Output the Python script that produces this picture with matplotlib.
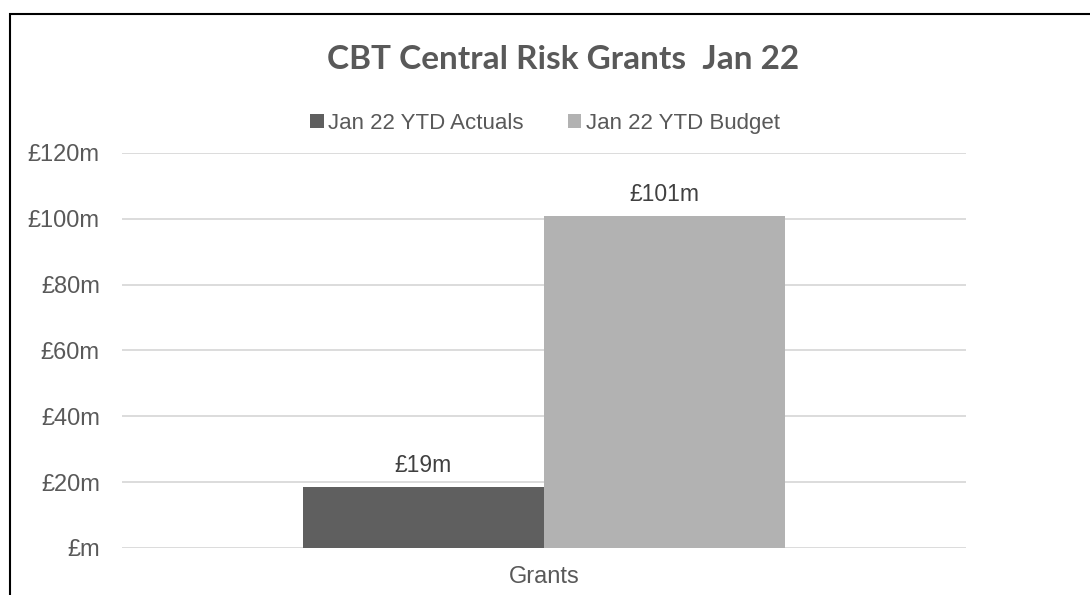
import matplotlib.pyplot as plt
from matplotlib.patches import Rectangle

plt.rcParams['font.family'] = ['Liberation Sans', 'DejaVu Sans']

# data
categories = ['Grants']
series_names = ['Jan 22 YTD Actuals', 'Jan 22 YTD Budget']
series_values = [[18.6], [100.9]]
value_labels = [['£19m'], ['£101m']]
series_colors = ['#5f5f5f', '#b2b2b2']
y_ticks = [0, 20, 40, 60, 80, 100, 120]
y_tick_labels = ['£m', '£20m', '£40m', '£60m', '£80m', '£100m', '£120m']

text_col = '#595959'

fig = plt.figure(figsize=(10.9, 5.95), dpi=100)
ax = fig.add_axes([0.112, 0.079, 0.774, 0.664])

# Excel-style gap width 150%: bar width = 1 / (2 + 1.5)
bw = 1 / 3.5
n = len(series_names)
for i, (name, vals, labs, col) in enumerate(zip(series_names, series_values, value_labels, series_colors)):
    xs = [j + (i - (n - 1) / 2) * bw for j in range(len(categories))]
    bars = ax.bar(xs, vals, width=bw, color=col, label=name, zorder=2)
    for b, lab in zip(bars, labs):
        ax.annotate(lab, (b.get_x() + b.get_width() / 2, b.get_height()),
                    xytext=(0, 7), textcoords='offset points',
                    ha='center', va='bottom', fontsize=16.5, color='#404040')

ax.set_xlim(-0.5, len(categories) - 0.5)
ax.set_ylim(0, 120)
ax.set_yticks(y_ticks)
ax.set_yticklabels(y_tick_labels)
ax.set_xticks(range(len(categories)))
ax.set_xticklabels(categories)
ax.tick_params(axis='both', length=0, labelsize=17, labelcolor=text_col)
ax.tick_params(axis='y', pad=16)
ax.tick_params(axis='x', pad=13)
ax.yaxis.grid(True, color='#d9d9d9', linewidth=1.3, zorder=0)
ax.set_axisbelow(True)
for s in ax.spines.values():
    s.set_visible(False)

# title font in the reference is Calibri bold; Lato is the closest installed
fig.text(0.5165, 0.9, 'CBT Central Risk Grants  Jan 22', ha='center', va='center',
         fontsize=24, fontweight='bold', color=text_col, family=['Lato', 'DejaVu Sans'])

fig.legend(loc='center', bbox_to_anchor=(0.5, 0.793), ncol=2, frameon=False,
           fontsize=16, labelcolor=text_col, handlelength=0.6, handleheight=0.6,
           handletextpad=0.2, columnspacing=2.0)

# chart-area border (clipped at right and bottom like the reference)
fig.patches.append(Rectangle((10 / 1090, -0.05), 1.2, 1 - 14 / 595 + 0.05,
                             transform=fig.transFigure, fill=False,
                             edgecolor='black', linewidth=1.5))

fig.savefig('out.png', dpi=100)
